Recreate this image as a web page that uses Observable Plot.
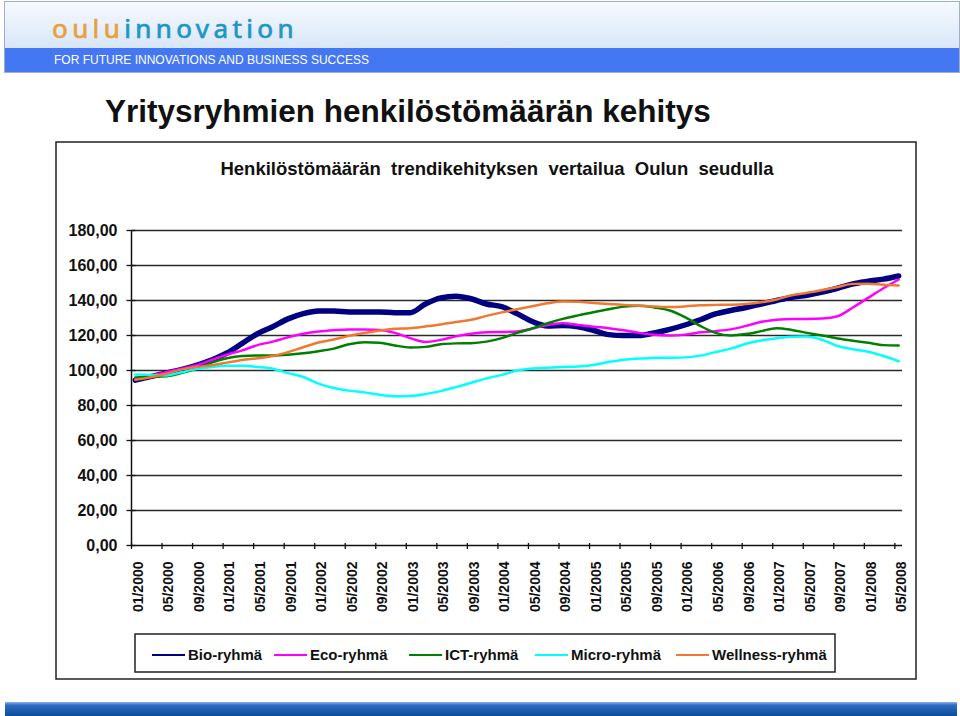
<!DOCTYPE html>
<html><head><meta charset="utf-8">
<script src="https://cdn.jsdelivr.net/npm/d3@7"></script>
<script src="https://cdn.jsdelivr.net/npm/@observablehq/plot@0.6"></script>
<style>
body{margin:0;background:#fff;font-family:"Liberation Sans",Arial,sans-serif;}
#page{position:relative;width:960px;height:716px;overflow:hidden;}
#page > svg{position:absolute;left:0;top:0;}
</style></head><body><div id="page"></div>
<script>
// ---- data (every second month) ----
const months = [0,2,4,6,8,10,12,14,16,18,20,22,24,26,28,30,32,34,36,38,40,42,44,46,48,50,52,54,56,58,60,62,64,66,68,70,72,74,76,78,80,82,84,86,88,90,92,94,96,98,100];
const seriesNames = ["Bio-ryhmä","Eco-ryhmä","ICT-ryhmä","Micro-ryhmä","Wellness-ryhmä"];
const seriesColors = ["#000080","#FF00FF","#008000","#00FFFF","#F07830"];
const bio = [94.5,96.5,98.5,100.5,103,106,110,115.5,121,125,129.5,132.5,134,134,133.5,133.5,133.5,133,133,138,141.5,142.5,141,138,136.5,132.5,128,125.5,125.7,125,123,120.5,120,120,121.5,123.5,126,129,132.3,134.3,136,138,140,141.8,143,144.8,147,149.5,151,152.2,154];
const eco = [95.5,97,99,101,103,106,109,111.5,114.5,116.5,119,121,122.3,123,123.4,123.4,123.2,121.5,118.5,116.3,117.5,119.5,121,121.8,122,122.3,124,126,127,126,125,124.2,123,121.5,120.4,120,120.5,121.8,122.5,123.5,125.5,127.8,129,129.5,129.5,129.7,131,136,141.5,147,152];
const ict = [96,96.3,96.7,98.5,101,104.5,107,108.3,108.6,108.6,109,109.8,111,112.5,115,116.2,115.8,114.3,113.2,113.5,115,115.5,115.6,116.5,118.5,121.5,124,127,129.5,131.5,133.3,135,136.5,137,136,134.3,130.5,125.5,121.5,120,120.8,122.5,124.2,123.2,121.5,120,118.3,117,115.8,114.5,114.3];
const micro = [97.7,97.5,97.2,99,100.8,102,102.7,102.7,102,101,98.5,96.3,92.5,90,88.5,87.5,86.2,85.3,85.4,86.5,88.2,90.5,93,95.5,97.5,100,101.2,101.6,102,102.3,103.2,104.8,106.2,106.8,107.2,107.3,107.5,108.5,110.5,112.5,115.3,117.2,118.4,119.3,119.4,117.5,114,112.2,110.7,108.3,105.3];
const wellness = [94.7,96.2,98,100.5,102,103,104.5,106,107,108.3,110.5,113.3,116,117.7,119.8,121.4,122.8,123.8,124.2,125.2,126.3,127.7,129,131.2,133.2,135,136.7,138.4,139.4,139.3,138.6,138,137.5,137,136.6,136.3,136.6,137.3,137.5,137.6,138,139,140.6,143,144.4,146,147.7,149.5,149.6,149,148.6];
const xLabels = ["01/2000","05/2000","09/2000","01/2001","05/2001","09/2001","01/2002","05/2002","09/2002","01/2003","05/2003","09/2003","01/2004","05/2004","09/2004","01/2005","05/2005","09/2005","01/2006","05/2006","09/2006","01/2007","05/2007","09/2007","01/2008","05/2008"];
const yTicks = [0,20,40,60,80,100,120,140,160,180];
const pageTitle = "Yritysryhmien henkilöstömäärän kehitys";
const chartTitle = "Henkilöstömäärän  trendikehityksen  vertailua  Oulun  seudulla";

const seriesValues = [bio, eco, ict, micro, wellness];
const rows = [];
seriesValues.forEach((vals, si) => vals.forEach((v, i) => rows.push({series: seriesNames[si], month: months[i], value: v})));

const page = document.getElementById("page");
const NS = "http://www.w3.org/2000/svg";

// ---- static decoration layer (header, titles, frame, legend, footer) ----
const deco = document.createElementNS(NS, "svg");
deco.setAttribute("width", 960); deco.setAttribute("height", 716);
deco.innerHTML = `
<defs>
 <linearGradient id="hg" x1="0" y1="0" x2="0" y2="1"><stop offset="0" stop-color="#f7fafe"/><stop offset="1" stop-color="#c9dcf6"/></linearGradient>
 <linearGradient id="fg" x1="0" y1="0" x2="0" y2="1"><stop offset="0" stop-color="#8ab6ee"/><stop offset="0.22" stop-color="#2f6cc2"/><stop offset="1" stop-color="#0b4e98"/></linearGradient>
</defs>
<rect x="4.5" y="1.5" width="955" height="71" fill="url(#hg)" stroke="#9fb0c6" stroke-width="1"/>
<rect x="5" y="48" width="954" height="24" fill="#4478F2"/>
<text x="52" y="38" font-family="'Noto Sans',sans-serif" font-size="26" letter-spacing="4.4" stroke-width="0.7"><tspan fill="#E6A23C" stroke="#E6A23C">oulu</tspan><tspan fill="#1C97C5" stroke="#1C97C5">innovation</tspan></text>
<text x="54" y="64" font-family="'Liberation Sans',Arial,sans-serif" font-size="12" fill="#ffffff">FOR FUTURE INNOVATIONS AND BUSINESS SUCCESS</text>
<text x="105" y="122" font-family="'Liberation Sans',Arial,sans-serif" font-size="31.5" font-weight="bold" fill="#111">${pageTitle}</text>
<rect x="56" y="142" width="860" height="537" fill="#fff" stroke="#222" stroke-width="1.5"/>
<text x="497" y="175" text-anchor="middle" font-family="'Liberation Sans',Arial,sans-serif" font-size="18.5" font-weight="bold" fill="#111" style="white-space:pre" xml:space="preserve">${chartTitle}</text>
<rect x="135" y="634" width="700" height="38" fill="#fff" stroke="#222" stroke-width="1.5"/>
<rect x="5" y="702" width="952" height="14" fill="url(#fg)"/>
`;
page.appendChild(deco);

// legend entries
const legendX = [152, 274, 409, 535, 676];
seriesNames.forEach((name, i) => {
  const l = document.createElementNS(NS, "line");
  l.setAttribute("x1", legendX[i]); l.setAttribute("x2", legendX[i] + 33);
  l.setAttribute("y1", 655); l.setAttribute("y2", 655);
  l.setAttribute("stroke", seriesColors[i]); l.setAttribute("stroke-width", 2);
  deco.appendChild(l);
  const t = document.createElementNS(NS, "text");
  t.setAttribute("x", legendX[i] + 36); t.setAttribute("y", 660);
  t.setAttribute("font-family", "'Liberation Sans',Arial,sans-serif");
  t.setAttribute("font-size", 15); t.setAttribute("font-weight", "bold");
  t.setAttribute("fill", "#111");
  t.textContent = name;
  deco.appendChild(t);
});

// ---- the chart ----
const tickPositions = xLabels.map((_, i) => 4 * i - 0.5);
const labelPositions = xLabels.map((_, i) => 4 * i + 0.4);

const chart = Plot.plot({
  width: 960, height: 716,
  marginLeft: 131, marginRight: 58, marginTop: 230, marginBottom: 171,
  style: {background: "transparent", overflow: "visible", fontFamily: "'Liberation Sans', Arial, sans-serif", color: "#111"},
  x: {domain: [-0.5, 100.5]},
  y: {domain: [0, 180]},
  marks: [
    Plot.gridY(yTicks.filter(d => d > 0), {stroke: "#2a2a2a", strokeOpacity: 1, strokeWidth: 1.5}),
    Plot.ruleX([-0.5], {stroke: "#111", strokeWidth: 1.5}),
    Plot.ruleY([0], {stroke: "#111", strokeWidth: 1.5}),
    Plot.axisY({ticks: yTicks, tickSize: 9, dx: 4.5, tickFormat: () => "", label: null, stroke: "#111", strokeWidth: 1.3}),
    Plot.axisY({ticks: yTicks, tickSize: 0, tickPadding: 14, label: null, tickFormat: d => d.toFixed(2).replace(".", ","), fontSize: 16, fontWeight: "bold", fill: "#111"}),
    Plot.axisX({ticks: tickPositions, tickSize: 6, dy: -2, tickFormat: () => "", label: null, stroke: "#111", strokeWidth: 1.3}),
    Plot.axisX({ticks: labelPositions, tickSize: 0, tickPadding: 16, tickRotate: -90, label: null, tickFormat: (d, i) => xLabels[i], fontSize: 14, fontWeight: "bold", fill: "#111"}),
    ...seriesNames.map((name, si) => Plot.line(rows.filter(r => r.series === name), {
      x: "month", y: "value", stroke: seriesColors[si], strokeWidth: si === 0 ? 5.5 : 2.5,
      curve: "monotone-x", strokeLinejoin: "round", strokeLinecap: "round"
    }))
  ]
});
page.appendChild(chart);
</script></body></html>
